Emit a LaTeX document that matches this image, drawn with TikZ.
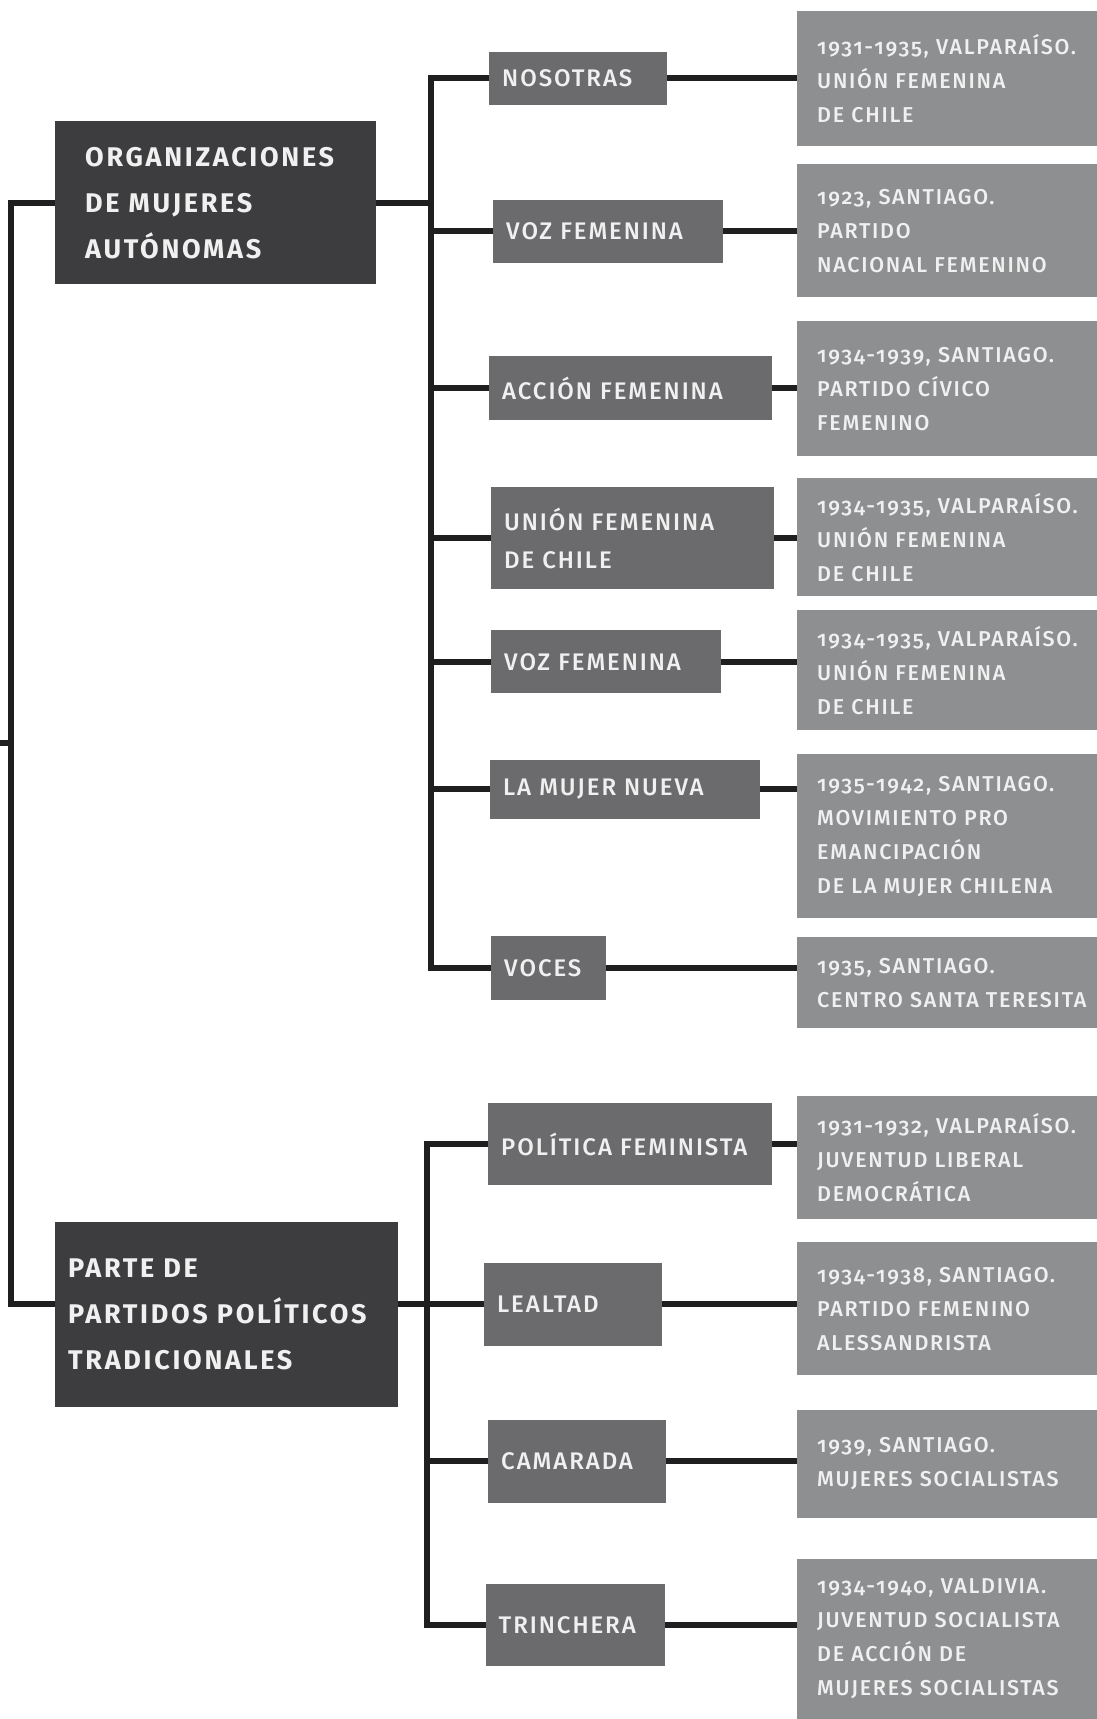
\documentclass[tikz,border=0pt]{standalone}
\usepackage{fontspec}
\setmainfont{Fira Sans}[Numbers=OldStyle,LetterSpace=10]
\newfontfamily\medfont{Fira Sans Medium}[Numbers=OldStyle,LetterSpace=8]
\usetikzlibrary{positioning}

\definecolor{maingray}{HTML}{3D3D3F}
\definecolor{subgray}{HTML}{6B6B6D}
\definecolor{detgray}{HTML}{8E8F91}
\definecolor{linegray}{HTML}{1F1F1F}
\definecolor{txtgray}{HTML}{F0F0F0}

\tikzset{
  mainbox/.style={fill=maingray, text=txtgray, anchor=north west, align=left,
    inner ysep=0pt, font=\bfseries\fontsize{27}{46}\selectfont},
  subbox/.style={fill=subgray, text=txtgray, anchor=north west, align=left,
    inner xsep=13pt, inner ysep=0pt, font=\medfont\fontsize{24}{38}\selectfont},
  detbox/.style={fill=detgray, text=txtgray, anchor=north west, align=left,
    text width=272pt, inner xsep=20pt, inner ysep=0pt,
    font=\medfont\fontsize{21.5}{34}\selectfont},
  link/.style={draw=linegray, line width=6pt, line join=miter}
}

\begin{document}
\begin{tikzpicture}[x=1pt,y=-1pt]
    \useasboundingbox (0,0) rectangle (1096,1719);

    % main boxes
    \node[mainbox, inner xsep=30pt, text width=261pt, minimum height=163pt] (org) at (55,121)
        {ORGANIZACIONES\\DE MUJERES\\AUTÓNOMAS};
    \node[mainbox, inner xsep=13pt, text width=317pt, minimum height=185pt] (parte) at (55,1222)
        {PARTE DE\\PARTIDOS POLÍTICOS\\TRADICIONALES};

    % publications, first group
    \node[subbox, text width=152pt, minimum height=53.5pt] (s1) at (489,51.5) {NOSOTRAS};
    \node[subbox, text width=204pt, minimum height=63.5pt] (s2) at (493,199.5) {VOZ FEMENINA};
    \node[subbox, text width=257pt, minimum height=64pt] (s3) at (489,356) {ACCIÓN FEMENINA};
    \node[subbox, text width=257pt, minimum height=101.5pt] (s4) at (491,487) {UNIÓN FEMENINA\\DE CHILE};
    \node[subbox, text width=204pt, minimum height=63pt] (s5) at (491,630) {VOZ FEMENINA};
    \node[subbox, text width=244pt, minimum height=59.5pt] (s6) at (490,759.5) {LA MUJER NUEVA};
    \node[subbox, text width=89pt, minimum height=64pt] (s7) at (491,936) {VOCES};

    % publications, second group
    \node[subbox, text width=258pt, minimum height=82.5pt] (p1) at (488,1102.5) {POLÍTICA FEMINISTA};
    \node[subbox, text width=152pt, minimum height=83.5pt] (p2) at (484,1262.5) {LEALTAD};
    \node[subbox, text width=152pt, minimum height=82.5pt] (p3) at (488,1420) {CAMARADA};
    \node[subbox, text width=153pt, minimum height=82pt] (p4) at (485.5,1584) {TRINCHERA};

    % details
    \node[detbox, minimum height=135pt] (d1) at (797,11)
        {1931-1935, VALPARAÍSO.\\UNIÓN FEMENINA\\DE CHILE};
    \node[detbox, minimum height=133pt] (d2) at (797,164)
        {1923, SANTIAGO.\\PARTIDO\\NACIONAL FEMENINO};
    \node[detbox, minimum height=135pt] (d3) at (797,321)
        {1934-1939, SANTIAGO.\\PARTIDO CÍVICO\\FEMENINO};
    \node[detbox, minimum height=118pt] (d4) at (797,478)
        {1934-1935, VALPARAÍSO.\\UNIÓN FEMENINA\\DE CHILE};
    \node[detbox, minimum height=120pt] (d5) at (797,610)
        {1934-1935, VALPARAÍSO.\\UNIÓN FEMENINA\\DE CHILE};
    \node[detbox, minimum height=164pt] (d6) at (797,754)
        {1935-1942, SANTIAGO.\\MOVIMIENTO PRO\\EMANCIPACIÓN\\DE LA MUJER CHILENA};
    \node[detbox, minimum height=91pt] (d7) at (797,937)
        {1935, SANTIAGO.\\CENTRO SANTA TERESITA};
    \node[detbox, minimum height=123pt] (e1) at (797,1096)
        {1931-1932, VALPARAÍSO.\\JUVENTUD LIBERAL\\DEMOCRÁTICA};
    \node[detbox, minimum height=133pt] (e2) at (797,1242)
        {1934-1938, SANTIAGO.\\PARTIDO FEMENINO\\ALESSANDRISTA};
    \node[detbox, minimum height=108.5pt] (e3) at (797,1409.5)
        {1939, SANTIAGO.\\MUJERES SOCIALISTAS};
    \node[detbox, minimum height=160.5pt] (e4) at (797,1558.5)
        {1934-1940, VALDIVIA.\\JUVENTUD SOCIALISTA\\DE ACCIÓN DE\\MUJERES SOCIALISTAS};

    % trunk on the left
    \coordinate (trunk) at (11,0);
    \coordinate (stub) at (0,743);
    \draw[link] (org.west) -- (org.west -| trunk) -- (p2.west -| trunk) -- (parte.west |- p2.west);
    \draw[link] (stub) -- (stub -| trunk);

    % first bus
    \coordinate (busA) at (431,0);
    \draw[link] (s1.west) -- (s1.west -| busA) -- (s7.west -| busA) -- (s7.west);
    \draw[link] (org.east) -- (org.east -| busA);
    \foreach \n in {s2,s3,s4,s5,s6}
        \draw[link] (\n.west) -- (\n.west -| busA);

    % second bus
    \coordinate (busB) at (427,0);
    \draw[link] (p1.west) -- (p1.west -| busB) -- (p4.west -| busB) -- (p4.west);
    \draw[link] (parte.east |- p2.west) -- (p2.west);
    \draw[link] (p3.west) -- (p3.west -| busB);

    % to the details
    \foreach \a/\b in {s1/d1,s2/d2,s3/d3,s4/d4,s5/d5,s6/d6,s7/d7,p1/e1,p2/e2,p3/e3,p4/e4}
        \draw[link] (\a.east) -- (\a.east -| \b.west);
\end{tikzpicture}
\end{document}
